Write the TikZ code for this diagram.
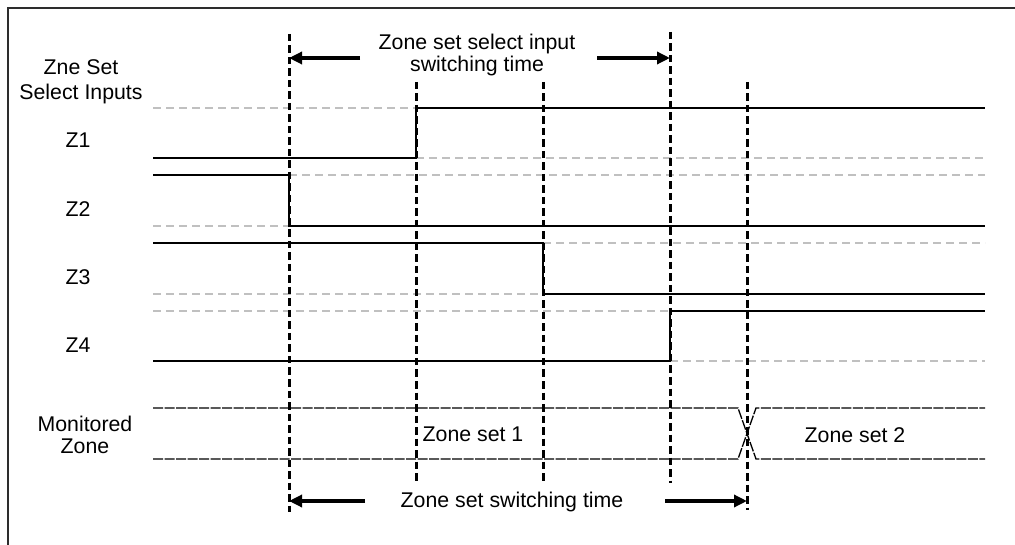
\documentclass[tikz,border=0pt]{standalone}
\usepackage{fontspec}
\setmainfont{Liberation Sans}
\usetikzlibrary{arrows.meta}
\definecolor{refgray}{RGB}{192,192,192}
\definecolor{framegray}{RGB}{45,45,45}
\begin{document}
\begin{tikzpicture}[x=1pt,y=-1pt,
  lbl/.style={font=\fontsize{21.3}{22}\selectfont, align=center, inner sep=0pt},
  lblwide/.style={font=\fontsize{21.3}{25}\selectfont, align=center, inner sep=0pt},
  sig/.style={line width=2.6pt, line join=miter, line cap=butt},
  refline/.style={line width=2.3pt, draw=refgray, dash pattern=on 8pt off 5pt},
  vline/.style={line width=3pt, dash pattern=on 7.5pt off 4pt},
  zoneline/.style={line width=1.3pt, dash pattern=on 10pt off 1.5pt},
  tarrow/.style={line width=3.4pt, -{Triangle[length=13pt,width=12pt]}}
]
\useasboundingbox (0,0) rectangle (1015,545);
% frame (top and left edges visible)
\draw[line width=2.2pt, draw=framegray] (8,545) -- (8,8) -- (1015,8);

% labels
\node[lblwide] (zneset) at (81,82) {Zne Set\\Select Inputs};
\node[lbl, anchor=base] (z1) at (78,147.5) {Z1};
\node[lbl, anchor=base] (z2) at (78,216.5) {Z2};
\node[lbl, anchor=base] (z3) at (78,284.5) {Z3};
\node[lbl, anchor=base] (z4) at (78,352.5) {Z4};
\node[lbl] (mon) at (85,435) {Monitored\\Zone};
\node[lbl, anchor=base] (zs1) at (473,441) {Zone set 1};
\node[lbl, anchor=base] (zs2) at (855,442) {Zone set 2};
\node[lbl] (toptxt) at (477,54.7) {Zone set select input\\switching time};
\node[lbl, anchor=base] (bottxt) at (512,507.5) {Zone set switching time};

% reference (gray dashed) levels
\draw[refline] (153,108) -- (416,108);
\draw[refline] (416,158) -- (985,158);
\draw[refline] (289,175) -- (985,175);
\draw[refline] (153,226) -- (289,226);
\draw[refline] (543,243) -- (985,243);
\draw[refline] (153,294) -- (543,294);
\draw[refline] (153,311) -- (670,311);
\draw[refline] (670,361) -- (985,361);

% signals
\draw[sig] (153,158) -- (416,158) -- (416,108) -- (985,108);
\draw[sig] (153,175) -- (289,175) -- (289,226) -- (985,226);
\draw[sig] (153,243) -- (543,243) -- (543,294) -- (985,294);
\draw[sig] (153,361) -- (670,361) -- (670,311) -- (985,311);

% monitored zone
\draw[zoneline] (153,408) -- (738,408) -- (756,459) -- (985,459);
\draw[zoneline] (153,459) -- (738,459) -- (756,408) -- (985,408);

% vertical time markers
\coordinate (v1t) at (289,34);  \coordinate (v1b) at (289,512);
\coordinate (v2t) at (416,82);  \coordinate (v2b) at (416,483);
\coordinate (v3t) at (543,82);  \coordinate (v3b) at (543,483);
\coordinate (v4t) at (670,32);  \coordinate (v4b) at (670,483);
\coordinate (v5t) at (747,82);  \coordinate (v5b) at (747,510);
\draw[vline] (v1t) -- (v1b);
\draw[vline] (v2t) -- (v2b);
\draw[vline] (v3t) -- (v3b);
\draw[vline] (v4t) -- (v4b);
\draw[vline] (v5t) -- (v5b);

% arrows
\coordinate (a1s) at (360,58);  \coordinate (a1e) at (289,58);
\coordinate (a2s) at (597,58);  \coordinate (a2e) at (670,58);
\coordinate (a3s) at (365,501); \coordinate (a3e) at (289,501);
\coordinate (a4s) at (665,501); \coordinate (a4e) at (747,501);
\draw[tarrow] (a1s) -- (a1e);
\draw[tarrow] (a2s) -- (a2e);
\draw[tarrow] (a3s) -- (a3e);
\draw[tarrow] (a4s) -- (a4e);
\end{tikzpicture}
\end{document}
